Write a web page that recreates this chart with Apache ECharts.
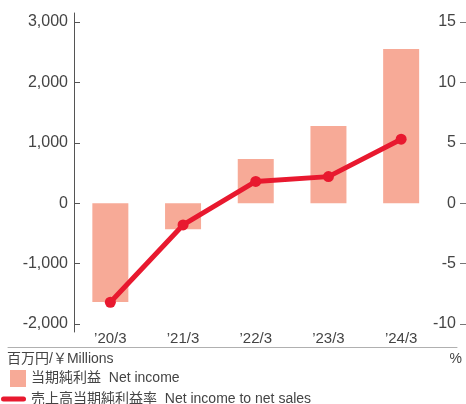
<!DOCTYPE html>
<html>
<head>
<meta charset="utf-8">
<script src="https://cdn.jsdelivr.net/npm/echarts@6/dist/echarts.min.js"></script>
<style>
  html, body { margin: 0; padding: 0; background: #fff; }
  #chart { width: 466px; height: 404px; }
</style>
</head>
<body>
<div id="chart"></div>
<script>
  // data
  var categories = ['’20/3', '’21/3', '’22/3', '’23/3', '’24/3'];
  var netIncome = [-1637, -431, 730, 1277, 2554];      // 百万円
  var netIncomeRatio = [-8.2, -1.8, 1.8, 2.2, 5.3];    // %
  var barName = '当期純利益  Net income';
  var lineName = '売上高当期純利益率  Net income to net sales';

  var font = "'Liberation Sans', 'Noto Sans CJK JP', sans-serif";
  var textColor = '#444';

  var chart = echarts.init(document.getElementById('chart'));
  var option = {
    backgroundColor: '#fff',
    animation: false,
    textStyle: { fontFamily: font },
    title: [
      { text: '百万円/￥Millions', left: 7, top: 352, padding: 0,
        textStyle: { fontSize: 14, fontWeight: 'normal', color: textColor, fontFamily: font } },
      { text: '%', right: 4, top: 352, padding: 0,
        textStyle: { fontSize: 14, fontWeight: 'normal', color: textColor, fontFamily: font } }
    ],
    legend: [
      { // bar legend
        data: [{ name: barName, icon: 'rect' }],
        left: 10, top: 370, padding: 0,
        itemWidth: 16, itemHeight: 17,
        textStyle: { fontSize: 14, color: textColor, fontFamily: font, padding: [3, 0, 0, 0] },
        selectedMode: false
      },
      { // line legend
        data: [{ name: lineName, icon: 'path://M2.5,0 L22.5,0 A2.5,2.5 0 0 1 22.5,5 L2.5,5 A2.5,2.5 0 0 1 2.5,0 Z' }],
        left: 1, top: 392, padding: 0,
        itemWidth: 25, itemHeight: 5,
        textStyle: { fontSize: 14, color: textColor, fontFamily: font },
        selectedMode: false
      }
    ],
    grid: [
      { left: 74, right: 28.5, top: 22, bottom: 80 },   // main plot
      { left: 8, right: 9, top: 300, bottom: 57 },      // bottom gray rule
      { left: 74, right: 300, top: 13, bottom: 72 }     // left axis line extent
    ],
    xAxis: [
      {
        type: 'category', gridIndex: 0, data: categories,
        axisLine: { show: false }, axisTick: { show: false },
        axisLabel: { fontSize: 15, color: textColor, margin: 7, fontFamily: font }
      },
      {
        type: 'value', gridIndex: 1, min: 0, max: 1,
        axisLine: { show: true, lineStyle: { color: '#b0b0b0', width: 1 } },
        axisTick: { show: false }, axisLabel: { show: false }, splitLine: { show: false }
      },
      { type: 'value', gridIndex: 2, show: false }
    ],
    yAxis: [
      {
        type: 'value', gridIndex: 0, min: -2000, max: 3000, interval: 1000,
        axisLine: { show: false },
        axisTick: { show: true, inside: true, length: 6, lineStyle: { color: '#555' } },
        axisLabel: { fontSize: 16, color: textColor, margin: 6, fontFamily: font, padding: [4, 0, 0, 0] },
        splitLine: { show: false }
      },
      {
        type: 'value', gridIndex: 0, position: 'right', offset: 28.5,
        min: -10, max: 15, interval: 5,
        axisLine: { show: false },
        axisTick: { show: true, inside: true, length: 6, lineStyle: { color: '#777' } },
        axisLabel: { inside: true, fontSize: 16, color: textColor, margin: 10, fontFamily: font, padding: [4, 0, 0, 0] },
        splitLine: { show: false }
      },
      { type: 'value', gridIndex: 1, show: false },
      {
        type: 'value', gridIndex: 2,
        axisLine: { show: true, lineStyle: { color: '#555', width: 1 } },
        axisTick: { show: false }, axisLabel: { show: false }, splitLine: { show: false }
      }
    ],
    series: [
      {
        name: barName, type: 'bar', xAxisIndex: 0, yAxisIndex: 0,
        data: netIncome, barWidth: 36,
        itemStyle: { color: '#F7AA97' }
      },
      {
        name: lineName, type: 'line', xAxisIndex: 0, yAxisIndex: 1,
        data: netIncomeRatio,
        symbol: 'circle', symbolSize: 11,
        lineStyle: { color: '#E8192F', width: 5 },
        itemStyle: { color: '#E8192F' }
      }
    ]
  };
  chart.setOption(option);
</script>
</body>
</html>
